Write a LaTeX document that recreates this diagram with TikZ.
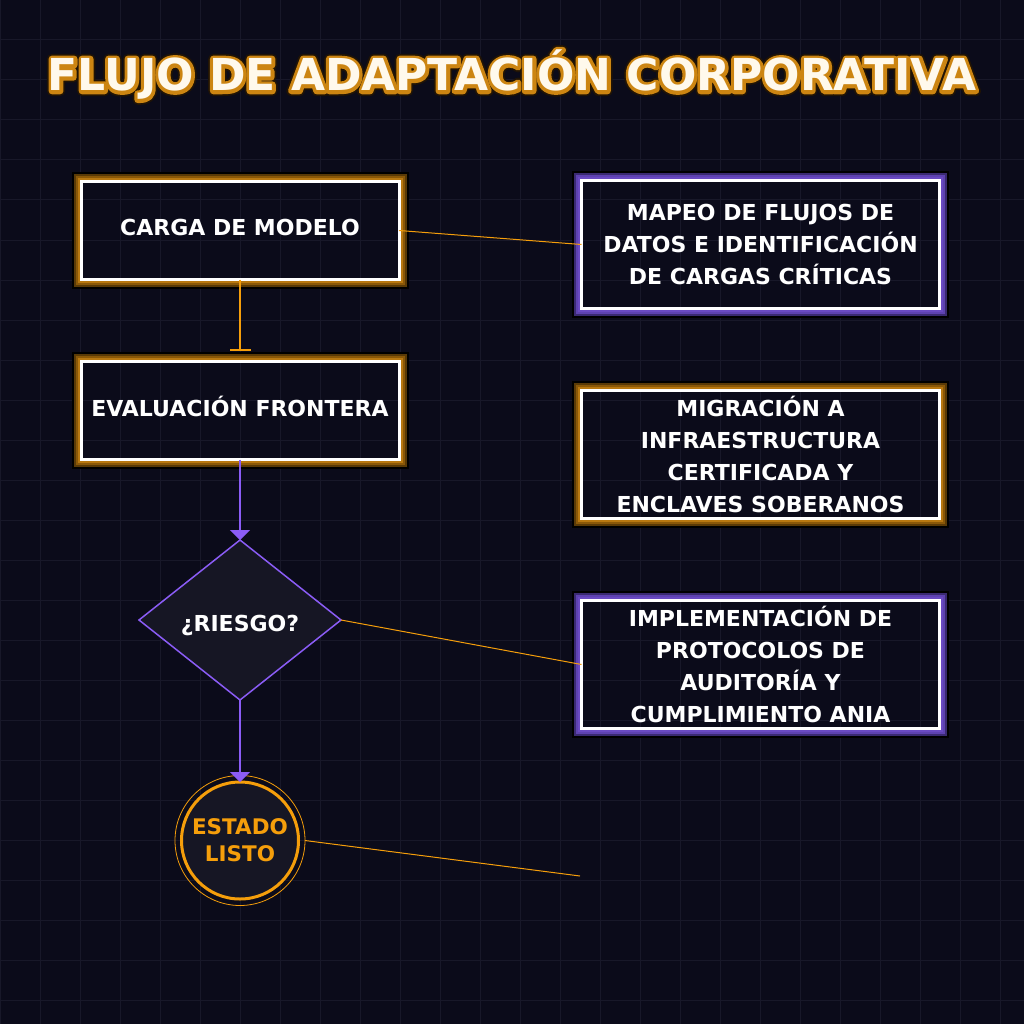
\documentclass[tikz,border=0pt]{standalone}
\usepackage{fontspec}
\setmainfont{DejaVu Sans}
\usepackage{xcolor}
\usetikzlibrary{arrows.meta}
\usetikzlibrary{shapes.geometric}

\definecolor{bgnavy}{HTML}{0B0B1A}
\definecolor{gridnavy}{HTML}{181829}
\definecolor{amber}{HTML}{F59E0B}
\definecolor{violet}{HTML}{8B5CF6}
\definecolor{shapefill}{HTML}{161624}
\definecolor{titlewhite}{HTML}{FFF9EC}
\definecolor{amberA}{HTML}{B87810}
\definecolor{amberB}{HTML}{8A5808}
\definecolor{amberC}{HTML}{5A3A06}
\definecolor{violetA}{HTML}{6A4AC2}
\definecolor{violetB}{HTML}{5E42B0}
\definecolor{violetC}{HTML}{3A2A72}

\newcommand{\glowframe}[4]{%
  \foreach \d/\c in {2.5/#2,4.5/#3,6.5/#4,8.5/black}
    \draw[draw=\c, line width=2pt] ([shift={(-\d pt,\d pt)}]#1.north west) rectangle ([shift={(\d pt,-\d pt)}]#1.south east);
}
\newcommand{\strokedtext}[3]{% width, stroke colour (rgb), text
  \special{pdf:literal direct 1 Tr #1 w 1 j 1 J #2 RG}#3\special{pdf:literal direct 0 Tr 0.4 w}}

\begin{document}
\begin{tikzpicture}[x=1pt, y=-1pt,
  flowbox/.style={draw=white, line width=3pt, outer sep=0pt, inner sep=0pt, minimum width=318pt, minimum height=98pt, text=white, align=center, text height=16pt, text depth=5pt, font=\bfseries\fontsize{22}{26}\selectfont},
  infobox/.style={draw=white, line width=3pt, outer sep=0pt, inner sep=0pt, minimum width=358pt, minimum height=128pt, text=white, align=center, font=\bfseries\fontsize{22}{32}\selectfont},
  decision/.style={diamond, draw=violet, line width=1.5pt, fill=shapefill, minimum width=202pt, minimum height=160pt, inner sep=0pt, outer sep=0pt, text=white, text height=22pt, text depth=0pt, font=\bfseries\fontsize{22}{26}\selectfont},
  terminal/.style={circle, draw=amber, line width=3pt, fill=shapefill, minimum size=117pt, inner sep=0pt, outer sep=0pt, text=amber, align=center, font=\bfseries\fontsize{21.5}{27}\selectfont},
  flowtee/.style={draw=amber, line width=2.5pt, -{Bar[width=21pt, line width=2pt]}, shorten >=11pt},
  flowarrow/.style={draw=violet, line width=2pt, -{Triangle[width=20pt, length=10pt]}},
  feedline/.style={draw=amber, line width=1pt},
  titletext/.style={anchor=base, inner sep=0pt, font=\bfseries\fontsize{44}{50}\selectfont}
]

\useasboundingbox (0,0) rectangle (1024,1024);
\fill[bgnavy] (0,0) rectangle (1024,1024);
\foreach \k in {0,40,...,1000} {
  \draw[gridnavy, line width=1pt] (\k,0) -- (\k,1024);
  \draw[gridnavy, line width=1pt] (0,\k) -- (1024,\k);
}

\coordinate (title) at (512,91);
\node[titletext, text=black] (halo) at (title) {\strokedtext{10}{0.13 0.08 0.02}{FLUJO DE ADAPTACIÓN CORPORATIVA}};
\node[titletext, text=black] (contorno) at (title) {\strokedtext{6.5}{0.80 0.52 0.07}{FLUJO DE ADAPTACIÓN CORPORATIVA}};
\node[titletext, text=titlewhite] (titulo) at (title) {FLUJO DE ADAPTACIÓN CORPORATIVA};

\node[flowbox] (carga) at (240,230.5) {CARGA DE MODELO};
\node[flowbox] (evaluacion) at (240,410.5) {EVALUACIÓN FRONTERA};
\node[decision] (riesgo) at (240,620) {¿RIESGO?};
\node[terminal] (listo) at (240,840.5) {ESTADO\\LISTO};
\node[circle, draw=amber, line width=0.8pt, minimum size=130pt, inner sep=0pt, outer sep=0pt] (listoring) at (listo) {};

\node[infobox] (mapeo) at (760.5,244.5) {MAPEO DE FLUJOS DE\\DATOS E IDENTIFICACIÓN\\DE CARGAS CRÍTICAS};
\node[infobox] (migracion) at (760.5,454.5) {MIGRACIÓN A\\INFRAESTRUCTURA\\CERTIFICADA Y\\ENCLAVES SOBERANOS};
\node[infobox] (auditoria) at (760.5,664.5) {IMPLEMENTACIÓN DE\\PROTOCOLOS DE\\AUDITORÍA Y\\CUMPLIMIENTO ANIA};
\coordinate (salida) at (580,876);

\glowframe{carga}{amberA}{amberB}{amberC}
\glowframe{evaluacion}{amberA}{amberB}{amberC}
\glowframe{mapeo}{violetA}{violetB}{violetC}
\glowframe{migracion}{amberA}{amberB}{amberC}
\glowframe{auditoria}{violetA}{violetB}{violetC}

\draw[flowtee] (carga.south) -- (evaluacion.north);
\draw[flowarrow] (evaluacion.south) -- (riesgo.north);
\draw[flowarrow] (riesgo.south) -- (listo.north);

\draw[feedline] (carga.east) -- (mapeo.west);
\draw[feedline] (riesgo.east) -- (auditoria.west);
\draw[feedline] (listoring.east) -- (salida);

\end{tikzpicture}
\end{document}
